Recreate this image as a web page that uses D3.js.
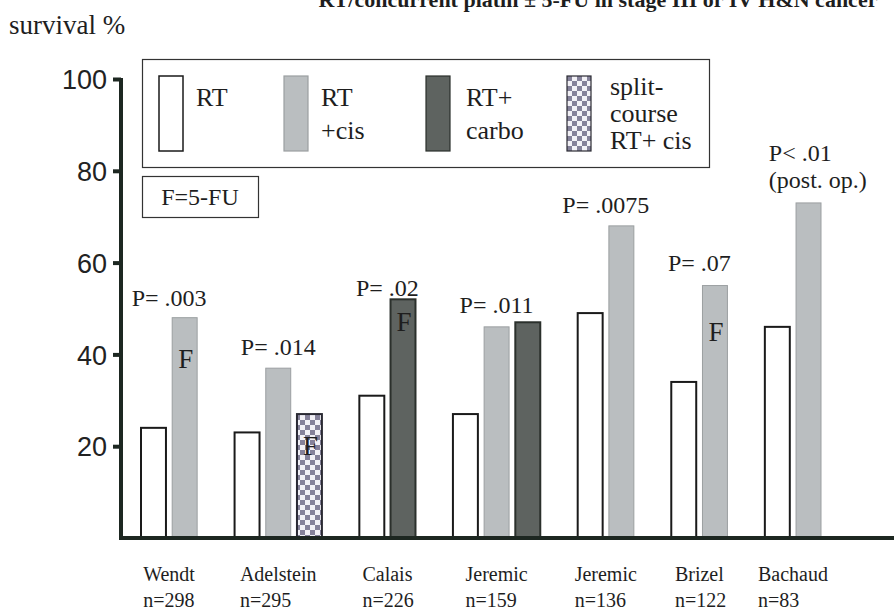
<!DOCTYPE html>
<html>
<head>
<meta charset="utf-8">
<script src="https://cdn.jsdelivr.net/npm/d3@7"></script>
<style>
  body { margin: 0; background: #fff; }
  svg { display: block; }
</style>
</head>
<body>
<svg width="894" height="613"></svg>
<script>
// --- data ---
var studies = ["Wendt", "Adelstein", "Calais", "Jeremic", "Jeremic", "Brizel", "Bachaud"]
var sizes = ["n=298", "n=295", "n=226", "n=159", "n=136", "n=122", "n=83"]
var treatments = ["RT", "RT+cis", "RT+carbo", "split"]
var legendLabels = [["RT"], ["RT", "+cis"], ["RT+", "carbo"], ["split-", "course", "RT+ cis"]]
var barTreatment = [
  ["RT", "RT+cis"],
  ["RT", "RT+cis", "split"],
  ["RT", "RT+carbo"],
  ["RT", "RT+cis", "RT+carbo"],
  ["RT", "RT+cis"],
  ["RT", "RT+cis"],
  ["RT", "RT+cis"]
]
var barValues = [[24, 48], [23, 37, 27], [31, 52], [27, 46, 47], [49, 68], [34, 55], [46, 73]]
// where an "F" (5-FU) mark sits on a bar, in survival %, null = none
var fuMark = [[null, 37], [null, null, 18], [null, 45], [null, null, null], [null, null], [null, 43], [null, null]]
var pLabels = [["P= .003"], ["P= .014"], ["P= .02"], ["P= .011"], ["P= .0075"], ["P= .07"], ["P< .01", "(post. op.)"]]
var pLabelAt = [50.5, 39.9, 52.7, 49, 70.8, 58.2, 82.1]
var yTicks = [20, 40, 60, 80, 100]
var title = "RT/concurrent platin \u00b1 5-FU in stage III or IV H&N cancer"

var SERIF = "'Liberation Serif', 'Times New Roman', serif"
var SANS = "'Liberation Sans', Arial, sans-serif"
var ink = "#1e1e1e"

var svg = d3.select("svg")
var axisColor = "#1d2721"

function serif(sel, size) {
  return sel.append("text").attr("font-family", SERIF).attr("font-size", size).attr("fill", ink)
}

// checker pattern for split-course bars
var pat = svg.append("defs").append("pattern")
  .attr("id", "checker").attr("patternUnits", "userSpaceOnUse")
  .attr("width", 10).attr("height", 10)
pat.append("rect").attr("width", 10).attr("height", 10).attr("fill", "#f2f1f6")
pat.append("rect").attr("width", 5).attr("height", 5).attr("fill", "#85829a")
pat.append("rect").attr("x", 5).attr("y", 5).attr("width", 5).attr("height", 5).attr("fill", "#85829a")

var fills = { "RT": "#fff", "RT+cis": "#babec0", "RT+carbo": "#5e6360", "split": "url(#checker)" }
var strokes = { "RT": "#1a1a1a", "RT+cis": "#9b9fa1", "RT+carbo": "#2b302c", "split": "#2a2a33" }
var strokeW = { "RT": 2, "RT+cis": 1, "RT+carbo": 2, "split": 2 }

// flatten bars into slots; each study gets one empty slot after it
var bars = [], groups = [], slot = 0
barValues.forEach(function (vals, g) {
  var first = slot
  vals.forEach(function (v, i) {
    bars.push({ slot: slot++, value: v, type: barTreatment[g][i], fu: fuMark[g][i] })
  })
  groups.push({ first: first, last: slot - 1 })
  slot++
})

var y = d3.scaleLinear().domain([0, 100]).range([538, 79])
var x = d3.scaleBand().domain(d3.range(slot - 1)).range([141, 821]).paddingInner(0.2)

// title, cut off by the top edge as in the original scan
serif(svg, 22).attr("x", 598).attr("y", 7).attr("text-anchor", "middle")
  .attr("font-weight", "bold").text(title)

serif(svg, 27).attr("x", 9).attr("y", 34).text("survival %")

// bars
svg.append("g").selectAll("rect")
  .data(bars)
  .enter().append("rect")
  .attr("x", function (d) { return x(d.slot) })
  .attr("y", function (d) { return y(d.value) })
  .attr("width", x.bandwidth())
  .attr("height", function (d) { return y(0) - y(d.value) })
  .attr("fill", function (d) { return fills[d.type] })
  .attr("stroke", function (d) { return strokes[d.type] })
  .attr("stroke-width", function (d) { return strokeW[d.type] })

// F marks
bars.filter(function (d) { return d.fu != null }).forEach(function (d) {
  serif(svg, 27).attr("x", x(d.slot) + x.bandwidth() / 2 + 1).attr("y", y(d.fu))
    .attr("text-anchor", "middle").text("F")
})

// axes
var yAxis = svg.append("g").attr("transform", "translate(121,0)")
  .call(d3.axisLeft(y).tickValues(yTicks).tickSize(8).tickPadding(6))
yAxis.select(".domain").remove()
yAxis.selectAll("line").attr("stroke", axisColor).attr("stroke-width", 4)
yAxis.selectAll("text").attr("font-size", 27).attr("font-family", SANS).attr("fill", "#222")
  .attr("dy", "0.36em")

svg.append("line").attr("x1", 121).attr("x2", 121).attr("y1", y(100) - 1).attr("y2", y(0) + 2)
  .attr("stroke", axisColor).attr("stroke-width", 4)
svg.append("line").attr("x1", 119).attr("x2", 894).attr("y1", y(0)).attr("y2", y(0))
  .attr("stroke", axisColor).attr("stroke-width", 4)

// study labels and P values
groups.forEach(function (gr, g) {
  var x0 = x(gr.first), x1 = x(gr.last) + x.bandwidth(), cx = (x0 + x1) / 2
  var name = serif(svg, 20).attr("x", cx).attr("y", 581).attr("text-anchor", "middle")
    .text(studies[g])
  var left = cx - name.node().getComputedTextLength() / 2
  serif(svg, 20).attr("x", left).attr("y", 607).text(sizes[g])

  var lines = pLabels[g], multi = lines.length > 1
  var pt = serif(svg, 24).attr("y", y(pLabelAt[g]))
    .attr("text-anchor", multi ? "start" : "middle")
  pt.selectAll("tspan").data(lines).enter().append("tspan")
    .attr("x", multi ? x0 + 4 : cx)
    .attr("dy", function (d, i) { return i ? 27 : 0 })
    .text(function (d) { return d })
})

// legend
var lg = svg.append("g")
lg.append("rect").attr("x", 142.5).attr("y", 59.5).attr("width", 567).attr("height", 108)
  .attr("fill", "#fff").attr("stroke", "#333").attr("stroke-width", 1.2)
var legX = d3.scaleOrdinal().domain(treatments).range([159, 284, 426, 567])
var item = lg.selectAll("g.item").data(treatments).enter().append("g")
  .attr("transform", function (d) { return "translate(" + legX(d) + ",76)" })
item.append("rect").attr("width", 24).attr("height", 75)
  .attr("fill", function (d) { return fills[d] })
  .attr("stroke", function (d) { return strokes[d] })
  .attr("stroke-width", function (d) { return d == "RT" ? 1.5 : 1.2 })
item.each(function (d, i) {
  var ls = legendLabels[i], three = ls.length > 2
  var step = three ? 27 : 33, base = three ? 19 : 30
  var t = serif(d3.select(this), 26)
  t.selectAll("tspan").data(ls).enter().append("tspan")
    .attr("x", 37 + (i == 2 ? 3 : 0) + (i == 3 ? 6 : 0))
    .attr("y", function (s, j) { return base + j * step })
    .text(function (s) { return s })
})

// F=5-FU note
svg.append("rect").attr("x", 142.5).attr("y", 176.5).attr("width", 116).attr("height", 41)
  .attr("fill", "#fff").attr("stroke", "#333").attr("stroke-width", 1.2)
serif(svg, 24).attr("x", 200).attr("y", 205).attr("text-anchor", "middle").text("F=5-FU")
</script>
</body>
</html>
